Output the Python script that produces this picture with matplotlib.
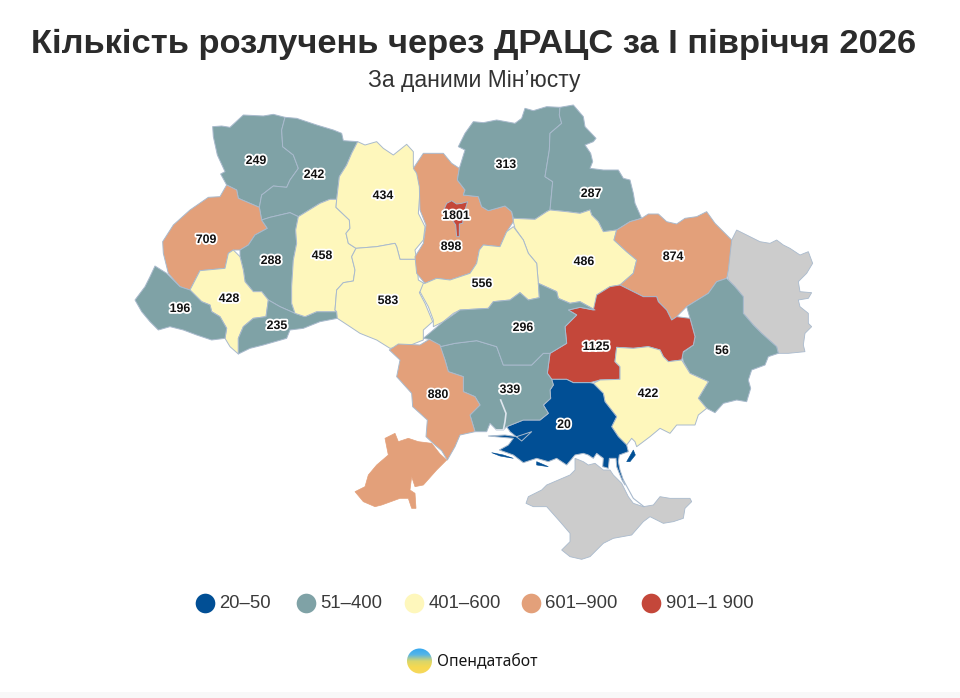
import numpy as np
import matplotlib
matplotlib.use("Agg")
import matplotlib.pyplot as plt
from matplotlib.patches import Polygon, Circle, Rectangle
from matplotlib.colors import LinearSegmentedColormap
import matplotlib.patheffects as pe

plt.rcParams['font.family'] = ['Liberation Sans', 'DejaVu Sans']

TITLE = "Кількість розлучень через ДРАЦС за І півріччя 2026"
SUBTITLE = "За даними Мін’юсту"
BRAND = "Опендатабот"

# values per region
regions = ["volyn", "rivne", "lviv", "ternopil", "ifrankivsk", "zakarpattia", "chernivtsi",
           "khmelnytskyi", "zhytomyr", "vinnytsia", "kyivobl", "kyiv", "chernihiv", "sumy",
           "poltava", "cherkasy", "kharkiv", "donetsk", "dnipro", "zaporizhzhia", "kherson",
           "mykolaiv", "kirovohrad", "odesa"]
values = [249, 242, 709, 288, 428, 196, 235, 458, 434, 583, 898, 1801, 313, 287, 486, 556,
          874, 56, 1125, 422, 20, 339, 296, 880]

bin_labels = ["20–50", "51–400", "401–600", "601–900", "901–1 900"]
bin_upper = [50, 400, 600, 900, 1900]
bin_colors = ["#014f95", "#7fa2a6", "#fef7bc", "#e3a07a", "#c4473a"]
GREY = "#cccccc"
EDGE = "#a9bacd"


def z1(*p):
    return [(130 + x / 3, 100 + y / 3) for x, y in p]


def z2(*p):
    return [(400 + x / 3, 100 + y / 3) for x, y in p]


def z3(*p):
    return [(340 + x / 3, 330 + y / 3) for x, y in p]


# map geometry, traced in picture pixels
shapes = {
    "volyn": z1((248,80),(275,78),(300,82),(340,45),(400,48),(430,43),(465,52),(455,90),(458,140),(490,165),(505,205),(480,240),(470,262),(430,258),(395,285),(388,322),(325,295),(320,270),(290,255),(272,222),(285,215),(262,165),(250,110)),
    "rivne": z1((465,52),(500,55),(560,75),(610,90),(635,100),(640,122),(683,125),(665,160),(650,195),(628,230),(620,298),(600,298),(570,310),(505,350),(480,338),(420,352),(395,360),(388,322),(395,285),(430,258),(470,262),(480,240),(505,205),(490,165),(458,140),(455,90)),
    "lviv": z1((290,255),(320,270),(325,295),(388,322),(395,360),(412,385),(375,405),(355,435),(330,450),(310,450),(295,460),(285,505),(210,512),(180,570),(150,560),(115,520),(100,460),(98,425),(130,375),(180,330),(235,292),(270,290)),
    "ternopil": z1((395,360),(420,352),(480,338),(505,350),(497,390),(500,430),(490,480),(485,560),(485,610),(495,640),(450,620),(415,600),(395,575),(370,575),(345,545),(340,510),(330,470),(330,450),(355,435),(375,405),(412,385)),
    "ifrankivsk": z1((295,460),(310,450),(330,470),(340,510),(345,545),(370,575),(395,575),(415,600),(408,650),(370,655),(340,680),(325,715),(325,762),(300,740),(285,715),(290,685),(270,650),(245,635),(240,615),(215,605),(180,570),(210,512),(285,505)),
    "zakarpattia": z1((75,498),(110,520),(150,560),(180,570),(215,605),(240,615),(245,635),(270,650),(290,685),(285,715),(245,720),(200,705),(160,690),(120,680),(85,690),(60,665),(35,635),(15,600),(45,560),(60,530)),
    "chernivtsi": z1((415,600),(450,620),(495,640),(525,650),(560,635),(620,635),(622,655),(570,665),(520,685),(480,690),(470,715),(400,735),(360,745),(325,762),(325,715),(340,680),(370,655),(408,650)),
    "khmelnytskyi": z1((505,350),(570,310),(600,298),(620,298),(618,322),(658,360),(660,385),(648,400),(655,430),(678,445),(665,470),(675,510),(670,543),(640,548),(620,570),(615,630),(620,635),(560,635),(525,650),(495,640),(485,610),(485,560),(490,480),(500,430),(497,390)),
    "zhytomyr": z1((683,125),(705,135),(740,125),(760,145),(790,165),(830,133),(850,155),(850,175),(850,200),(865,225),(870,270),(865,340),(885,380),(880,420),(855,450),(860,478),(810,478),(800,440),(795,430),(740,440),(678,445),(655,430),(648,400),(660,385),(658,360),(618,322),(620,298),(628,230),(650,195),(665,160)),
    "vinnytsia": z1((678,445),(740,440),(795,430),(800,440),(810,478),(860,478),(865,540),(885,552),(868,578),(885,610),(908,665),(880,690),(880,720),(830,740),(780,745),(740,720),(690,700),(660,680),(622,655),(620,635),(615,630),(620,570),(640,548),(670,543),(675,510),(665,470)),
    "kyivobl": z2((40,205),(70,160),(130,160),(155,190),(178,205),(172,240),(195,270),(190,285),(235,290),(245,320),(265,332),(315,318),(335,335),(340,365),(320,395),(300,440),(250,435),(238,450),(230,490),(210,520),(150,540),(110,535),(75,550),(50,520),(45,470),(70,430),(78,375),(60,330),(58,260),(50,220)),
    "kyiv": z2((140,310),(155,302),(170,312),(185,310),(203,305),(195,330),(190,345),(188,370),(178,372),(178,410),(170,410),(167,375),(150,350),(132,328)),
    "chernihiv": z2((178,205),(195,150),(175,140),(195,100),(220,65),(250,68),(290,60),(345,70),(365,55),(375,25),(400,32),(440,20),(480,22),(478,45),(485,70),(450,100),(448,150),(435,230),(458,245),(450,330),(440,335),(405,358),(340,355),(335,335),(315,318),(265,332),(245,320),(235,290),(190,285),(195,270),(172,240)),
    "sumy": z2((480,22),(520,15),(550,50),(555,80),(588,115),(580,125),(555,135),(572,160),(578,185),(570,205),(610,210),(655,210),(670,235),(690,240),(700,280),(705,310),(725,355),(690,365),(650,390),(610,395),(595,365),(575,345),(570,330),(540,340),(500,335),(450,330),(458,245),(435,230),(448,150),(450,100),(485,70),(478,45)),
    "poltava": z2((340,365),(340,355),(405,358),(440,335),(450,330),(500,335),(540,340),(570,330),(575,345),(595,365),(610,395),(650,390),(642,420),(680,455),(710,480),(700,520),(660,555),(630,560),(590,585),(585,630),(540,605),(510,610),(475,595),(470,575),(415,550),(410,490),(385,460),(370,420),(345,385)),
    "cherkasy": z2((340,380),(370,420),(385,460),(410,490),(415,550),(418,593),(385,600),(360,578),(330,600),(280,605),(265,625),(180,630),(160,640),(130,665),(100,680),(100,660),(85,620),(60,575),(70,550),(75,550),(110,535),(150,540),(210,520),(230,490),(238,450),(250,435),(300,440),(320,395)),
    "kharkiv": z2((650,390),(690,365),(725,355),(745,342),(775,342),(800,365),(830,372),(855,355),(890,350),(920,335),(945,370),(995,420),(985,510),(980,535),(950,545),(925,580),(860,620),(830,650),(815,660),(800,630),(775,605),(770,590),(730,590),(680,565),(660,555),(700,520),(710,480),(680,455),(642,420)),
    "donetsk": z2((860,620),(925,580),(950,545),(980,535),(1005,560),(1030,590),(1030,640),(1060,675),(1085,700),(1130,740),(1135,760)) + z3((1285,80),(1275,105),(1235,120),(1225,150),(1232,175),(1220,215),(1190,210),(1150,220),(1125,248),(1100,235),(1075,205),(1105,155),(1050,130),(1030,95),(1025,70),(1060,45),(1065,20)) + z2((885,710),(870,655)),
    "dnipro": z2((505,630),(540,622),(580,630),(590,585),(630,560),(660,555),(680,565),(730,590),(770,590),(775,605),(800,630),(815,660),(830,650),(870,655),(885,710)) + z3((1060,45),(1030,65),(1025,90),(985,95),(970,80),(960,60),(925,50),(880,55),(830,52),(825,95),(840,110),(840,148),(780,150),(750,158),(700,158),(680,148),(635,148),(622,130),(630,70),(680,40)) + z2((495,680),(530,645)),
    "zaporizhzhia": z3((830,52),(880,55),(925,50),(960,60),(970,80),(985,95),(1025,90),(1050,130),(1105,155),(1075,205),(1100,235),(1075,255),(1065,285),(1010,285),(990,310),(960,295),(930,320),(890,350),(885,335),(875,325),(860,345),(835,320),(815,290),(830,260),(795,215),(790,190),(760,160),(780,150),(840,148),(840,110),(825,95)),
    "kherson": z3((635,148),(680,148),(700,158),(750,158),(760,160),(790,190),(795,215),(830,260),(815,290),(835,320),(860,345),(865,365),(838,375),(835,395),(840,420),(855,465),(846,450),(830,410),(828,385),(808,385),(805,415),(788,410),(790,385),(770,370),(760,385),(745,375),(730,370),(705,375),(680,405),(650,385),(625,395),(590,385),(550,398),(520,375),(478,360),(505,345),(520,325),(445,318),(495,315),(530,320),(575,305),(545,333),(510,305),(500,290),(550,270),(600,270),(625,250),(610,225),(632,205),(630,180),(640,165)),
    "mykolaiv": z3((300,50),(345,40),(410,32),(470,50),(490,105),(575,105),(610,70),(630,70),(622,130),(635,148),(640,165),(630,180),(632,205),(610,225),(625,250),(600,270),(550,270),(500,290),(490,300),(470,300),(450,280),(440,305),(405,305),(390,255),(420,225),(405,200),(370,185),(370,140),(325,125),(315,90)),
    "kirovohrad": z2((70,715),(130,665),(180,630),(265,625),(280,605),(330,600),(360,578),(385,600),(418,593),(415,550),(470,575),(475,595),(510,610),(540,605),(585,630),(540,622),(505,630),(530,645),(495,680)) + z3((680,40),(630,70),(610,70),(575,105),(490,105),(470,50),(410,32),(345,40),(300,50),(268,28),(250,25)),
    "odesa": z3((148,60),(175,42),(240,45),(268,28),(300,45),(315,90),(325,125),(370,140),(370,185),(405,200),(420,225),(390,255),(405,305),(360,315),(345,350),(322,390),(305,362),(285,345),(258,320),(262,270),(218,230),(215,190),(170,140),(180,90)),
    "budjak": z3((135,325),(165,310),(175,335),(205,325),(235,335),(275,340),(300,372),(320,390),(290,420),(250,465),(225,470),(215,440),(210,480),(225,490),(228,535),(215,535),(205,505),(180,505),(125,525),(105,530),(70,515),(45,485),(75,470),(85,435),(110,405),(145,375)),
}
islands = [
    z3((455,368),(490,375),(520,385),(480,378)),
    z3((590,395),(625,410),(590,405)),
    z3((860,395),(880,360),(886,375),(870,395)),
]
luhansk = z2((995,420),(1010,390),(1040,405),(1080,425),(1110,430),(1130,420),(1150,435),(1170,445),(1200,465),(1225,455),(1238,490),(1220,520),(1195,545),(1200,575),(1235,578),(1225,595),(1195,600),(1200,620),(1225,640),(1225,670),(1235,680),(1215,700),(1210,735),(1215,755),(1165,760),(1135,760),(1130,740),(1085,700),(1060,675),(1030,640),(1030,590),(1005,560),(985,540),(980,510))
crimea = z3((705,385),(730,395),(745,405),(765,400),(790,420),(810,420),(820,435),(845,460),(865,500),(880,520),(910,530),(940,525),(960,500),(990,505),(1050,505),(1055,515),(1035,535),(1030,565),(1000,575),(970,580),(930,560),(910,575),(875,615),(820,625),(790,640),(750,680),(725,688),(690,680),(665,660),(690,635),(690,610),(660,575),(620,530),(580,530),(558,520),(565,500),(605,480),(620,465),(690,435),(705,420))
estuary = z3((482,210),(490,230),(498,250),(495,275),(490,300),(470,300))
spit = z3((850,450),(880,505),(912,530))

label_pos = dict(volyn=(256,161), rivne=(314,175), zhytomyr=(383,196), lviv=(206,240),
                 khmelnytskyi=(322,256), ternopil=(271,261), ifrankivsk=(229,299), zakarpattia=(180,309),
                 vinnytsia=(388,301), chernivtsi=(277,326), kyiv=(456,216), kyivobl=(451,247),
                 chernihiv=(506,165), sumy=(591,194), cherkasy=(482,284), poltava=(584,262),
                 kharkiv=(673,257), kirovohrad=(523,328), dnipro=(596,347), donetsk=(722,351),
                 odesa=(438,395), mykolaiv=(510,390), zaporizhzhia=(648,394), kherson=(564,425))


def colour_of(v):
    return bin_colors[int(np.searchsorted(bin_upper, v))]


fig = plt.figure(figsize=(9.6, 6.98), dpi=100)
ax = fig.add_axes([0, 0, 1, 1])
ax.set_xlim(0, 960)
ax.set_ylim(698, 0)
ax.axis("off")

ax.add_patch(Rectangle((0, 692), 960, 6, fc="#f8f8f8", ec="none", zorder=0))

ax.add_patch(Polygon(luhansk, fc=GREY, ec=EDGE, lw=0.6, zorder=1))
ax.add_patch(Polygon(crimea, fc=GREY, ec=EDGE, lw=0.6, zorder=1))
for name, value in zip(regions, values):
    c = colour_of(value)
    z = 3 if name == "kyiv" else 2
    ax.add_patch(Polygon(shapes[name], fc=c, ec=EDGE, lw=0.7, joinstyle="round", zorder=z))
    if name == "odesa":
        ax.add_patch(Polygon(shapes["budjak"], fc=c, ec=c, lw=0.5, zorder=z))
    if name == "kherson":
        for isl in islands:
            ax.add_patch(Polygon(isl, fc=c, ec=c, lw=0.4, zorder=z))
ex, ey = zip(*estuary)
ax.plot(ex, ey, color="#dfe6ee", lw=1.2, zorder=2.5)
sx, sy = zip(*spit)
ax.plot(sx, sy, color=EDGE, lw=0.8, zorder=2.5)

halo = [pe.withStroke(linewidth=2.6, foreground="white")]
for name, value in zip(regions, values):
    x, y = label_pos[name]
    ax.text(x, y, str(value), ha="center", va="center", fontsize=8.9, fontweight="bold",
            color="#111111", path_effects=halo, zorder=5)

ax.text(474, 44, TITLE, ha="center", va="center", fontsize=24.8, fontweight="bold", color="#2b2b2b")
ax.text(474, 80, SUBTITLE, ha="center", va="center", fontsize=16.5, color="#333333")

legend_x = [205, 306, 414, 531, 651]
for lx, lab, col in zip(legend_x, bin_labels, bin_colors):
    ax.scatter([lx], [603], s=200, color=col, linewidths=0, zorder=3)
    ax.text(lx + 14.5, 603.5, lab, ha="left", va="center", fontsize=13.3, color="#3a3a3a")

# brand mark
cmap = LinearSegmentedColormap.from_list("logo", ["#35a8f0", "#55b5e8", "#d9d66a", "#f7d94f", "#f5d860"])
im = ax.imshow(np.linspace(0, 1, 64)[:, None], extent=(407, 432, 674, 648), cmap=cmap,
               aspect="auto", zorder=3)
im.set_clip_path(Circle((419.5, 661), 12.5, transform=ax.transData))
ax.set_xlim(0, 960)
ax.set_ylim(698, 0)
ax.text(437, 661, BRAND, ha="left", va="center", fontsize=11.3, fontweight="bold",
        color="#151515", family=["Noto Sans", "DejaVu Sans"])

fig.savefig("out.png", dpi=100)
